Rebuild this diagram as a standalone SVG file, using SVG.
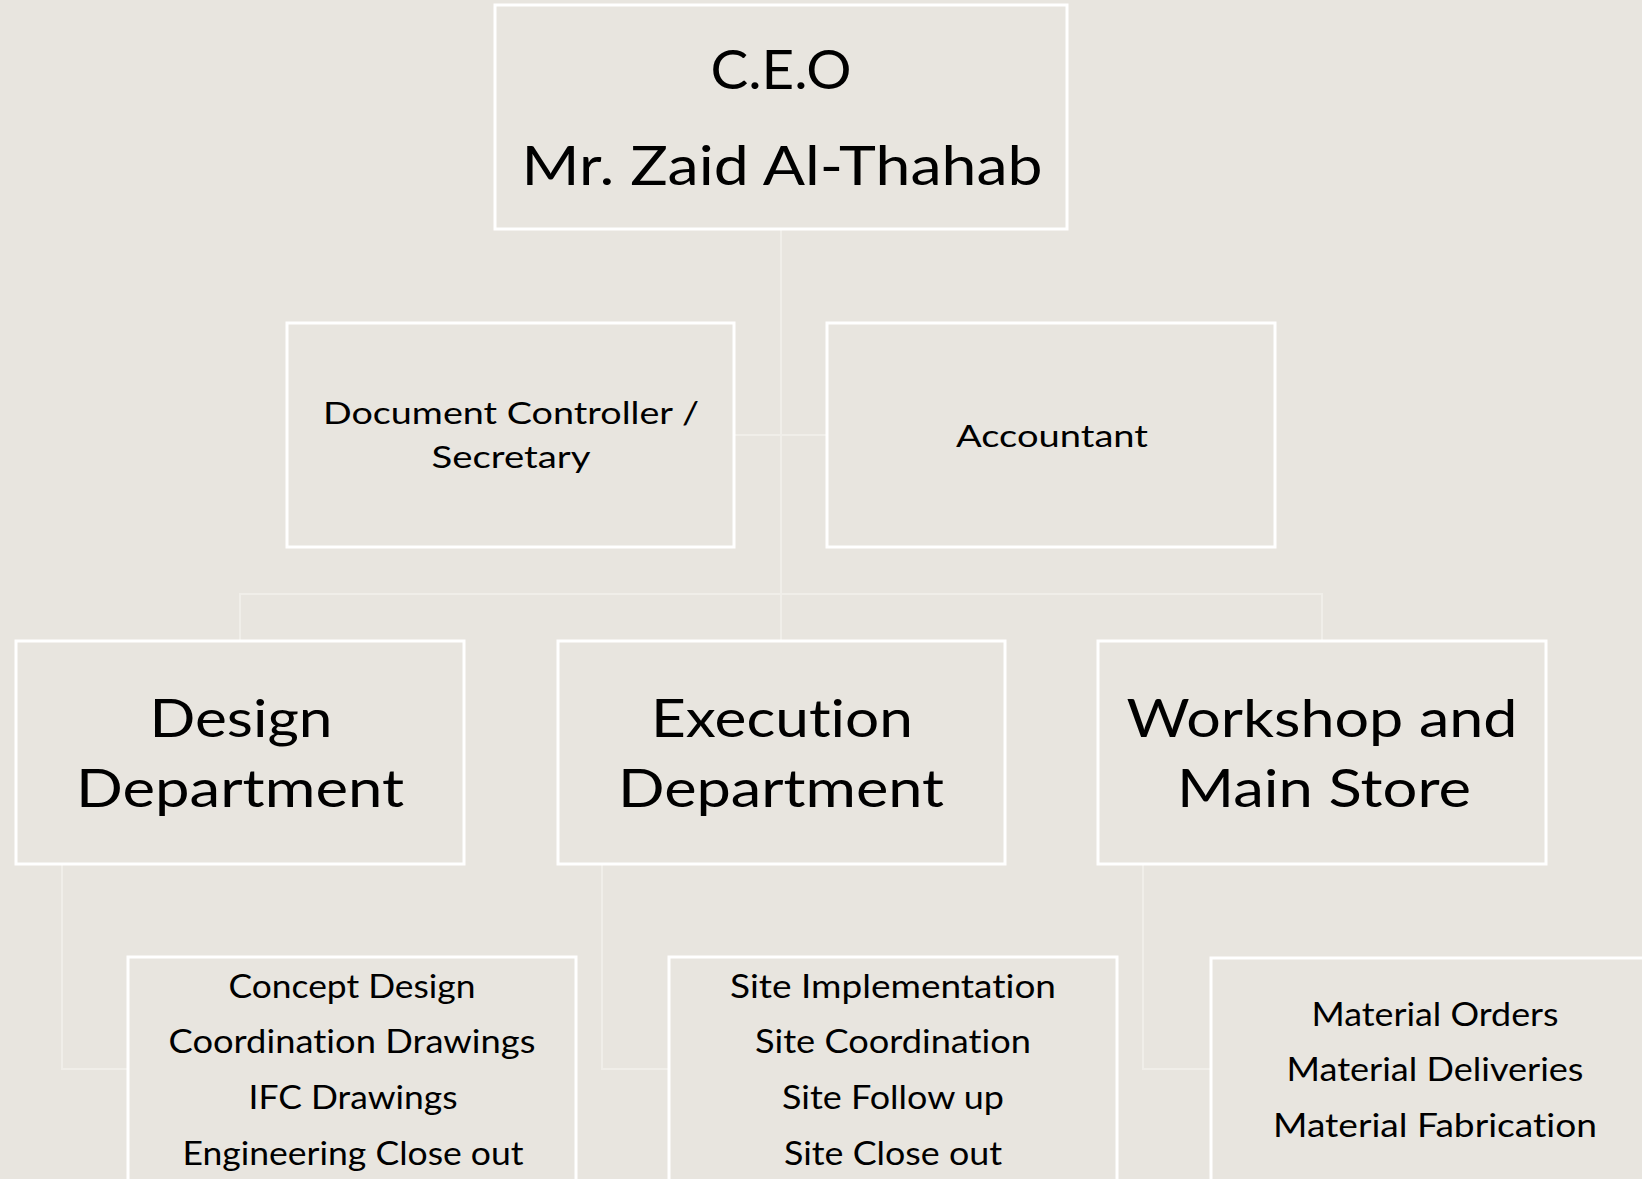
<svg xmlns="http://www.w3.org/2000/svg" width="1642" height="1179" viewBox="0 0 1642 1179">
<style>
.bg{fill:#e8e5df}
.box{fill:#e8e5df;stroke:#ffffff;stroke-width:3}
.con{fill:none;stroke:#f0eee9;stroke-width:2}
text{font-family:Lato,"Liberation Sans",sans-serif;fill:#000000;text-anchor:middle;font-variant-ligatures:none}
.t1{font-size:54px}
.t2{font-size:31px}
.t3{font-size:53px}
.t4{font-size:33px}
</style>
<rect class="bg" x="0" y="0" width="1642" height="1179"/>
<g id="connectors">
<path class="con" d="M781 229 V641"/>
<path class="con" d="M734 435 H827"/>
<path class="con" d="M240 641 V594 H1322 V641"/>
<path class="con" d="M62 864 V1069 H128"/>
<path class="con" d="M602 864 V1069 H669"/>
<path class="con" d="M1143 864 V1069 H1211"/>
</g>
<g id="ceo">
<rect class="box" x="495" y="5" width="572" height="224"/>
<text class="t1" x="781" y="89" textLength="141" lengthAdjust="spacingAndGlyphs">C.E.O</text>
<text class="t1" x="782" y="185" textLength="521" lengthAdjust="spacingAndGlyphs">Mr. Zaid Al-Thahab</text>
</g>
<g id="doc-controller">
<rect class="box" x="287" y="323" width="447" height="224"/>
<text class="t2" x="511" y="424" textLength="376" lengthAdjust="spacingAndGlyphs">Document Controller /</text>
<text class="t2" x="511" y="468" textLength="159" lengthAdjust="spacingAndGlyphs">Secretary</text>
</g>
<g id="accountant">
<rect class="box" x="827" y="323" width="448" height="224"/>
<text class="t2" x="1052" y="447" textLength="192" lengthAdjust="spacingAndGlyphs">Accountant</text>
</g>
<g id="design">
<rect class="box" x="16" y="641" width="448" height="223"/>
<text class="t3" x="241" y="737" textLength="183" lengthAdjust="spacingAndGlyphs">Design</text>
<text class="t3" x="240" y="807" textLength="328" lengthAdjust="spacingAndGlyphs">Department</text>
</g>
<g id="execution">
<rect class="box" x="558" y="641" width="447" height="223"/>
<text class="t3" x="782" y="737" textLength="262" lengthAdjust="spacingAndGlyphs">Execution</text>
<text class="t3" x="781" y="807" textLength="326" lengthAdjust="spacingAndGlyphs">Department</text>
</g>
<g id="workshop">
<rect class="box" x="1098" y="641" width="448" height="223"/>
<text class="t3" x="1322" y="737" textLength="391" lengthAdjust="spacingAndGlyphs">Workshop and</text>
<text class="t3" x="1324" y="807" textLength="294" lengthAdjust="spacingAndGlyphs">Main Store</text>
</g>
<g id="design-tasks">
<rect class="box" x="128" y="957" width="448" height="240"/>
<text class="t4" x="352" y="998" textLength="247" lengthAdjust="spacingAndGlyphs">Concept Design</text>
<text class="t4" x="352" y="1053" textLength="367" lengthAdjust="spacingAndGlyphs">Coordination Drawings</text>
<text class="t4" x="353" y="1109" textLength="209" lengthAdjust="spacingAndGlyphs">IFC Drawings</text>
<text class="t4" x="353" y="1165" textLength="341" lengthAdjust="spacingAndGlyphs">Engineering Close out</text>
</g>
<g id="execution-tasks">
<rect class="box" x="669" y="957" width="448" height="240"/>
<text class="t4" x="893" y="998" textLength="326" lengthAdjust="spacingAndGlyphs">Site Implementation</text>
<text class="t4" x="893" y="1053" textLength="276" lengthAdjust="spacingAndGlyphs">Site Coordination</text>
<text class="t4" x="893" y="1109" textLength="222" lengthAdjust="spacingAndGlyphs">Site Follow up</text>
<text class="t4" x="893" y="1165" textLength="218" lengthAdjust="spacingAndGlyphs">Site Close out</text>
</g>
<g id="workshop-tasks">
<rect class="box" x="1211" y="958" width="448" height="240"/>
<text class="t4" x="1435" y="1026" textLength="247" lengthAdjust="spacingAndGlyphs">Material Orders</text>
<text class="t4" x="1435" y="1081" textLength="297" lengthAdjust="spacingAndGlyphs">Material Deliveries</text>
<text class="t4" x="1435" y="1137" textLength="324" lengthAdjust="spacingAndGlyphs">Material Fabrication</text>
</g>
</svg>
